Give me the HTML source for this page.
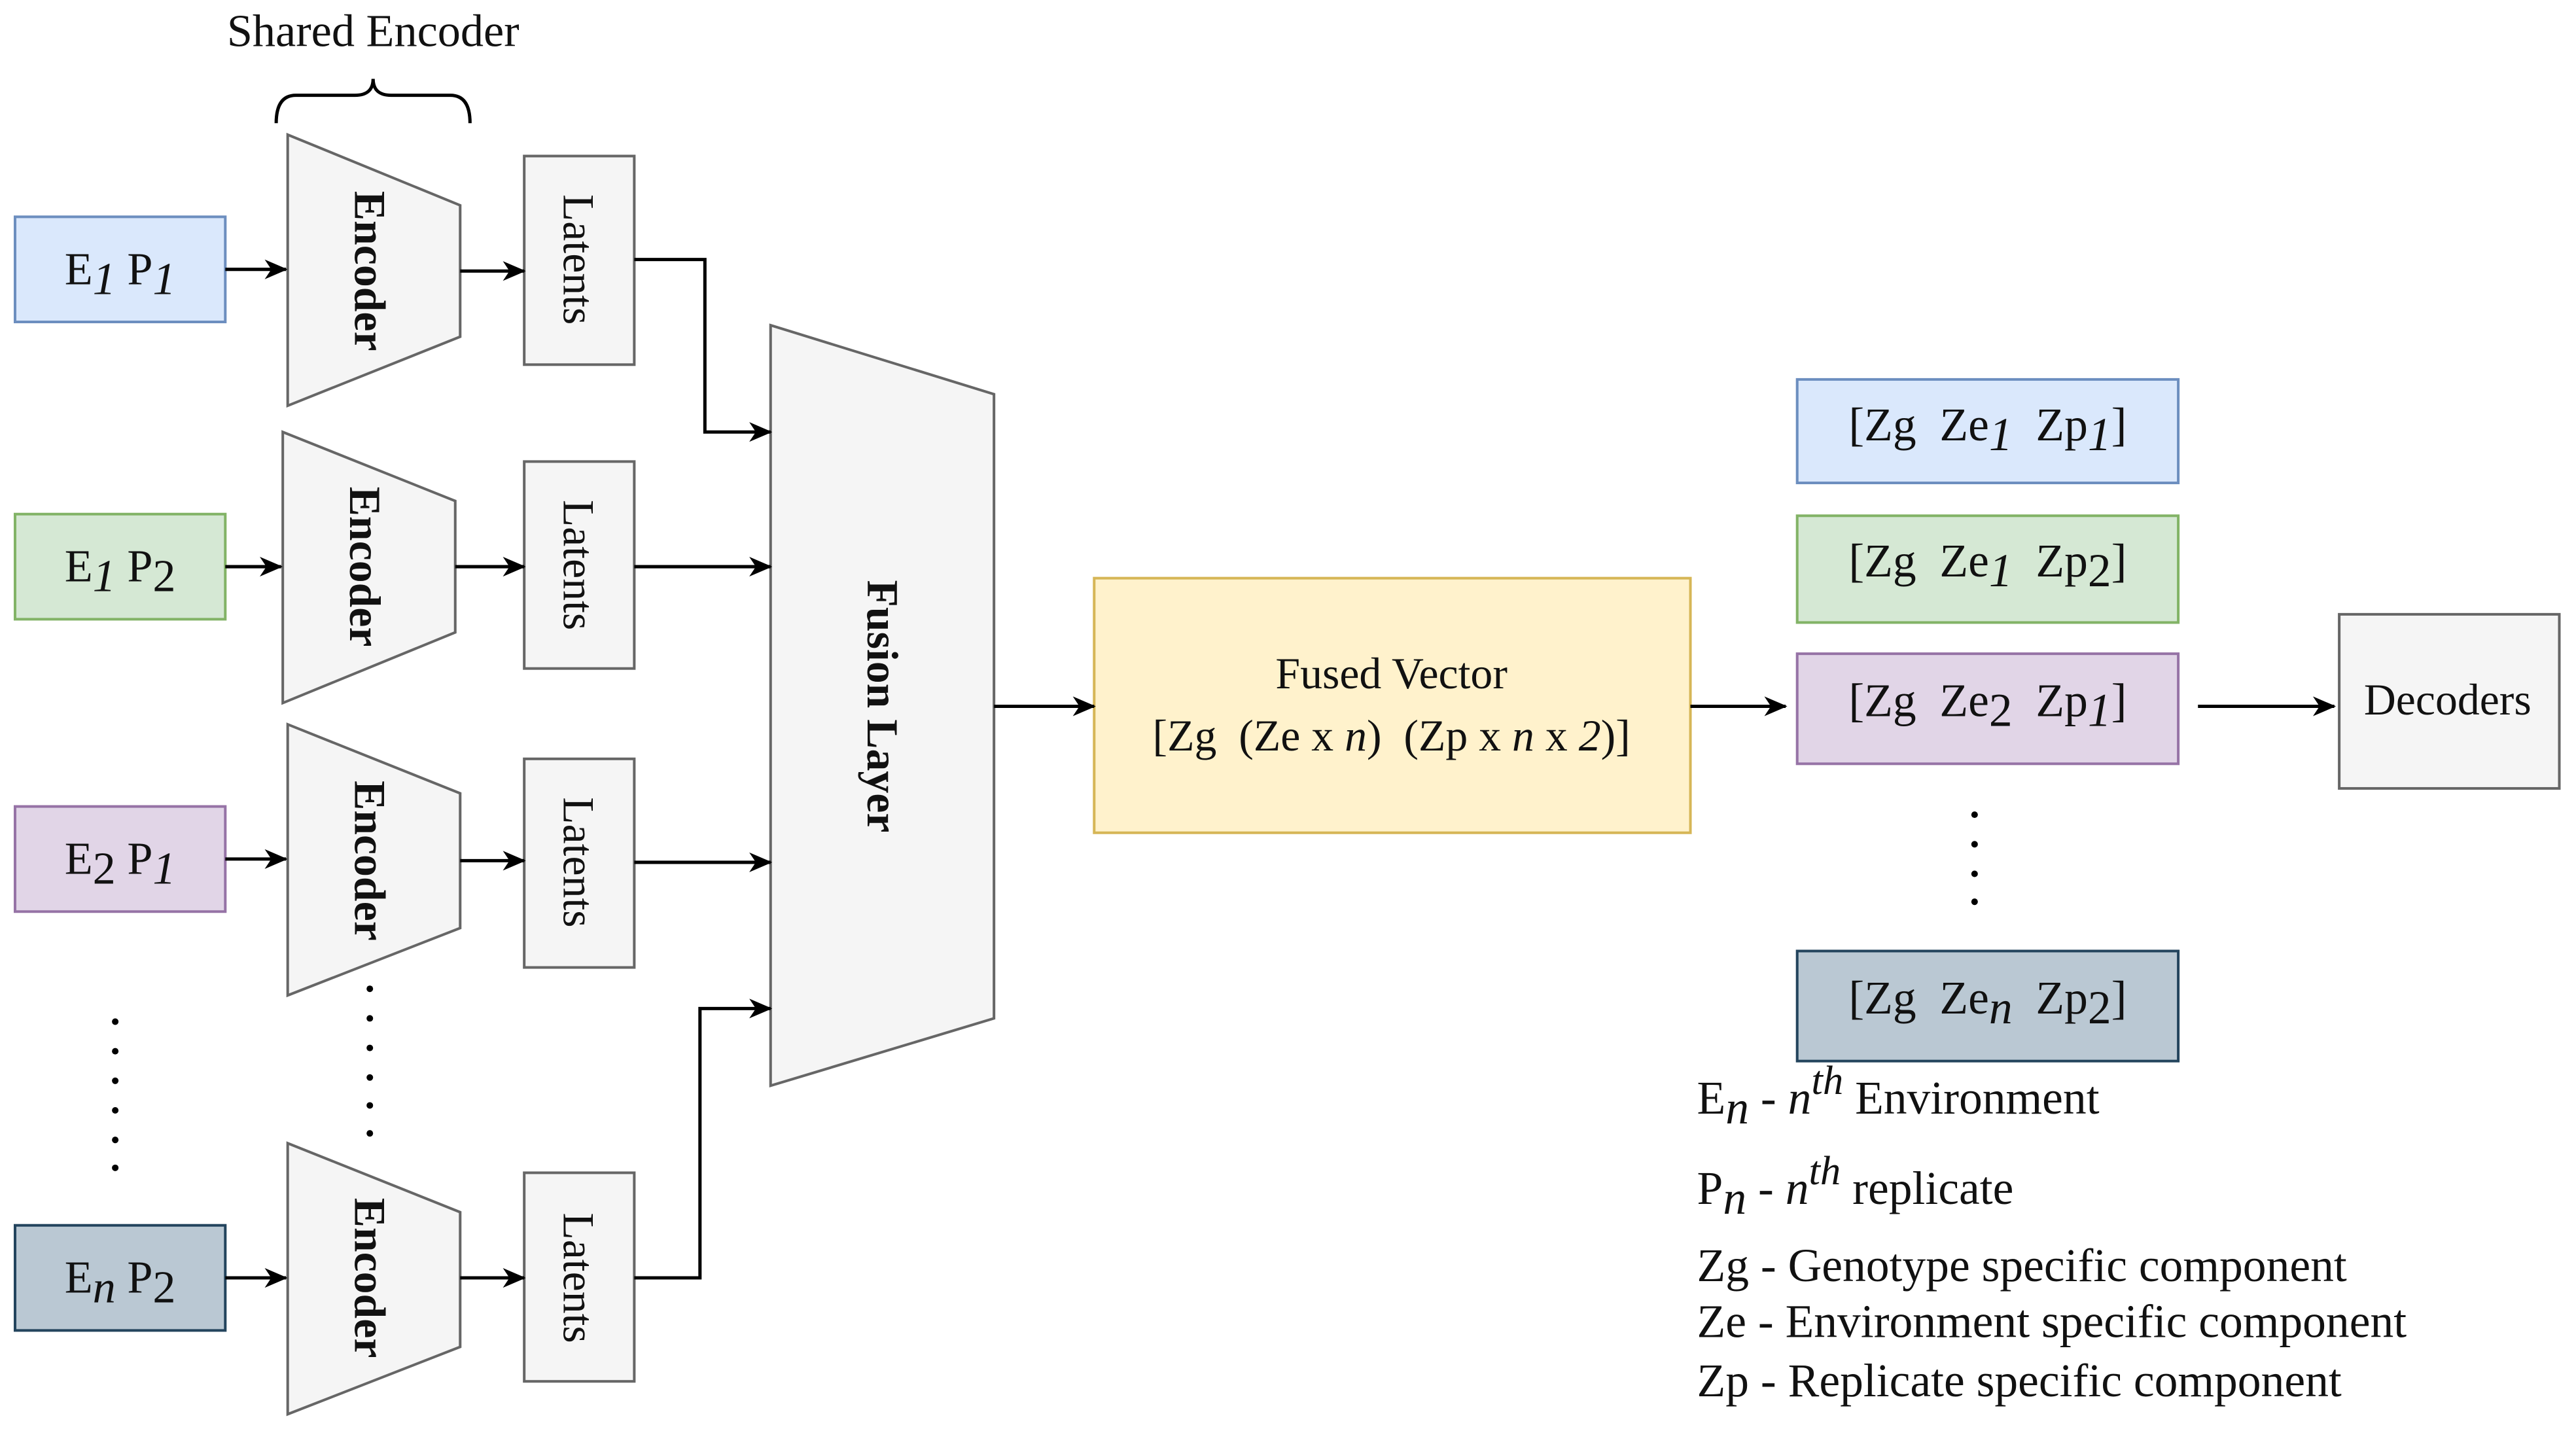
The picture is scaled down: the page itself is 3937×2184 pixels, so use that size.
<!DOCTYPE html>
<html><head><meta charset="utf-8"><style>
html,body{margin:0;padding:0;background:#fff;}
svg{display:block;}
text{font-family:"Liberation Serif",serif;fill:#111;}
</style></head><body>
<svg width="3937" height="2184" viewBox="0 0 1568 870" xmlns="http://www.w3.org/2000/svg">
<defs><marker id="a" markerWidth="14" markerHeight="12" refX="13" refY="6" orient="auto" markerUnits="userSpaceOnUse"><path d="M0,0 L14,6 L0,12 L4,6 z" fill="#000"/></marker></defs>
<g stroke-width="1.6">
<rect x="9" y="132" width="128" height="64" fill="#dae8fc" stroke="#6c8ebf"/>
<rect x="9" y="313" width="128" height="64" fill="#d5e8d4" stroke="#82b366"/>
<rect x="9" y="491" width="128" height="64" fill="#e1d5e7" stroke="#9673a6"/>
<rect x="9" y="746" width="128" height="64" fill="#bac8d3" stroke="#23445d"/>
<polygon points="175,82 280,125 280,205 175,247" fill="#f5f5f5" stroke="#666"/>
<polygon points="172,263 277,305 277,385 172,428" fill="#f5f5f5" stroke="#666"/>
<polygon points="175,441 280,483 280,565 175,606" fill="#f5f5f5" stroke="#666"/>
<polygon points="175,696 280,738 280,820 175,861" fill="#f5f5f5" stroke="#666"/>
<rect x="319" y="95" width="67" height="127" fill="#f5f5f5" stroke="#666"/>
<rect x="319" y="281" width="67" height="126" fill="#f5f5f5" stroke="#666"/>
<rect x="319" y="462" width="67" height="127" fill="#f5f5f5" stroke="#666"/>
<rect x="319" y="714" width="67" height="127" fill="#f5f5f5" stroke="#666"/>
<polygon points="469,198 605,240 605,620 469,661" fill="#f5f5f5" stroke="#666"/>
<rect x="666" y="352" width="363" height="155" fill="#fff2cc" stroke="#d6b656"/>
<rect x="1094" y="231" width="232" height="63" fill="#dae8fc" stroke="#6c8ebf"/>
<rect x="1094" y="314" width="232" height="65" fill="#d5e8d4" stroke="#82b366"/>
<rect x="1094" y="398" width="232" height="67" fill="#e1d5e7" stroke="#9673a6"/>
<rect x="1094" y="579" width="232" height="67" fill="#bac8d3" stroke="#23445d"/>
<rect x="1424" y="374" width="134" height="106" fill="#f5f5f5" stroke="#666"/>
</g>
<g stroke="#000" stroke-width="2" fill="none" marker-end="url(#a)">
<line x1="137" y1="164" x2="174" y2="164"/>
<line x1="137" y1="345" x2="171" y2="345"/>
<line x1="137" y1="523" x2="174" y2="523"/>
<line x1="137" y1="778" x2="174" y2="778"/>
<line x1="280" y1="165" x2="319" y2="165"/>
<line x1="277" y1="345" x2="319" y2="345"/>
<line x1="280" y1="524" x2="319" y2="524"/>
<line x1="280" y1="778" x2="319" y2="778"/>
<polyline points="386,158 429,158 429,263 469,263"/>
<line x1="386" y1="345" x2="469" y2="345"/>
<line x1="386" y1="525" x2="469" y2="525"/>
<polyline points="386,778 426,778 426,614 469,614"/>
<line x1="605" y1="430" x2="666" y2="430"/>
<line x1="1029" y1="430" x2="1087" y2="430"/>
<line x1="1338" y1="430" x2="1421" y2="430"/>
</g>
<path d="M168,75 Q168,58 180,58 L216,58 Q227,58 227,48 Q227,58 238,58 L274,58 Q286,58 286,75" fill="none" stroke="#000" stroke-width="2"/>
<text x="227" y="28" font-size="28" text-anchor="middle">Shared Encoder</text>
<g fill="#000">
<circle cx="70" cy="622" r="2"/><circle cx="70" cy="640" r="2"/><circle cx="70" cy="658" r="2"/><circle cx="70" cy="676" r="2"/><circle cx="70" cy="694" r="2"/><circle cx="70" cy="711" r="2"/>
<circle cx="225" cy="602" r="2"/><circle cx="225" cy="620" r="2"/><circle cx="225" cy="638" r="2"/><circle cx="225" cy="656" r="2"/><circle cx="225" cy="673" r="2"/><circle cx="225" cy="690" r="2"/>
<circle cx="1202" cy="496" r="2"/><circle cx="1202" cy="514" r="2"/><circle cx="1202" cy="532" r="2"/><circle cx="1202" cy="549" r="2"/>
</g>
<g font-size="28" text-anchor="middle">
<text x="73" y="173">E<tspan font-style="italic" dy="6">1</tspan><tspan dy="-6"> P</tspan><tspan font-style="italic" dy="6">1</tspan></text>
<text x="73" y="354">E<tspan font-style="italic" dy="6">1</tspan><tspan dy="-6"> P</tspan><tspan dy="6">2</tspan></text>
<text x="73" y="532">E<tspan dy="6">2</tspan><tspan dy="-6"> P</tspan><tspan font-style="italic" dy="6">1</tspan></text>
<text x="73" y="787">E<tspan font-style="italic" dy="6">n</tspan><tspan dy="-6"> P</tspan><tspan dy="6">2</tspan></text>
</g>
<g font-size="27" font-weight="bold" text-anchor="middle" dominant-baseline="central">
<text transform="translate(225,165) rotate(90)">Encoder</text>
<text transform="translate(222,345) rotate(90)">Encoder</text>
<text transform="translate(225,524) rotate(90)">Encoder</text>
<text transform="translate(225,778) rotate(90)">Encoder</text>
<text transform="translate(537,430) rotate(90)">Fusion Layer</text>
</g>
<g font-size="27" text-anchor="middle" dominant-baseline="central">
<text transform="translate(352,158) rotate(90)">Latents</text>
<text transform="translate(352,344) rotate(90)">Latents</text>
<text transform="translate(352,525) rotate(90)">Latents</text>
<text transform="translate(352,778) rotate(90)">Latents</text>
</g>
<g font-size="27" text-anchor="middle">
<text x="847" y="419">Fused Vector</text>
<text x="847" y="457" xml:space="preserve">[Zg  (Ze x <tspan font-style="italic">n</tspan>)  (Zp x <tspan font-style="italic">n</tspan> x <tspan font-style="italic">2</tspan>)]</text>
<text x="1490" y="435">Decoders</text>
</g>
<g font-size="28.5" text-anchor="middle">
<text x="1210" y="268" xml:space="preserve">[Zg  Ze<tspan font-style="italic" dy="6">1</tspan><tspan dy="-6">  Zp</tspan><tspan font-style="italic" dy="6">1</tspan><tspan dy="-6">]</tspan></text>
<text x="1210" y="351" xml:space="preserve">[Zg  Ze<tspan font-style="italic" dy="6">1</tspan><tspan dy="-6">  Zp</tspan><tspan dy="6">2</tspan><tspan dy="-6">]</tspan></text>
<text x="1210" y="436" xml:space="preserve">[Zg  Ze<tspan dy="6">2</tspan><tspan dy="-6">  Zp</tspan><tspan font-style="italic" dy="6">1</tspan><tspan dy="-6">]</tspan></text>
<text x="1210" y="617" xml:space="preserve">[Zg  Ze<tspan font-style="italic" dy="6">n</tspan><tspan dy="-6">  Zp</tspan><tspan dy="6">2</tspan><tspan dy="-6">]</tspan></text>
</g>
<g font-size="28.5">
<text x="1033" y="678">E<tspan font-style="italic" dy="6">n</tspan><tspan dy="-6"> - </tspan><tspan font-style="italic">n</tspan><tspan font-style="italic" dy="-12" font-size="25">th</tspan><tspan dy="12"> Environment</tspan></text>
<text x="1033" y="733">P<tspan font-style="italic" dy="6">n</tspan><tspan dy="-6"> - </tspan><tspan font-style="italic">n</tspan><tspan font-style="italic" dy="-12" font-size="25">th</tspan><tspan dy="12"> replicate</tspan></text>
<text x="1033" y="780">Zg - Genotype specific component</text>
<text x="1033" y="814">Ze - Environment specific component</text>
<text x="1033" y="850">Zp - Replicate specific component</text>
</g>
</svg>
</body></html>
